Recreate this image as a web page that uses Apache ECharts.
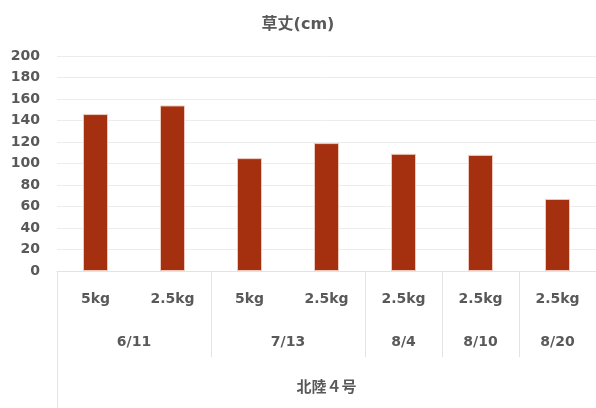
<!DOCTYPE html>
<html>
<head>
<meta charset="utf-8">
<script src="https://cdn.jsdelivr.net/npm/echarts@6/dist/echarts.min.js"></script>
<style>
  html, body { margin: 0; padding: 0; background: #fff; }
  #chart { width: 596px; height: 408px; }
</style>
</head>
<body>
<div id="chart"></div>
<script>
// 草丈 (plant height, cm) by sampling date and fertiliser amount
const weights = ['5kg', '2.5kg', '5kg', '2.5kg', '2.5kg', '2.5kg', '2.5kg'];
const heights = [146, 154, 105, 119, 109, 108, 67];
const dates = ['6/11', '7/13', '8/4', '8/10', '8/20'];
const dateSpans = [2, 2, 1, 1, 1];          // how many bars each date covers
const variety = '北陸４号';
const yTicks = { min: 0, max: 200, interval: 20 };

const FONT = "'DejaVu Sans', 'Noto Sans CJK JP', sans-serif";
const TEXT = '#595959';
const LINE = '#e3e3e3';

// Half-slot positions for the date row: a point axis with 2 points per bar slot
const halfCount = weights.length * 2 + 1;
const halfData = new Array(halfCount).fill('');
const dividerIdx = [];
let pos = 0;
dates.forEach((d, i) => {
  halfData[pos + dateSpans[i]] = d;        // centre of the group
  pos += dateSpans[i] * 2;
  if (pos < halfCount - 1) dividerIdx.push(pos);
});
const labelIdx = halfData.map((v, i) => v ? i : -1).filter(i => i >= 0);

const chart = echarts.init(document.getElementById('chart'));
chart.setOption({
  animation: false,
  title: {
    text: '草丈(cm)',
    left: 'center',
    top: 12,
    textStyle: { fontFamily: FONT, fontSize: 16, fontWeight: 'bold', color: TEXT }
  },
  grid: { left: 57, top: 56, width: 542, height: 215 },
  yAxis: {
    type: 'value',
    min: yTicks.min, max: yTicks.max, interval: yTicks.interval,
    axisLine: { show: false },
    axisTick: { show: false },
    axisLabel: { fontFamily: FONT, fontSize: 14, fontWeight: 'bold', color: TEXT, margin: 17 },
    splitLine: { lineStyle: { color: '#ececec', width: 1 } }
  },
  xAxis: [
    {
      type: 'category',
      data: weights,
      position: 'bottom',
      axisLine: { lineStyle: { color: LINE, width: 1 } },
      axisTick: { show: false },
      axisLabel: { fontFamily: FONT, fontSize: 14, fontWeight: 'bold', color: TEXT, margin: 21, interval: 0 }
    },
    {
      type: 'category',
      data: halfData,
      boundaryGap: false,
      position: 'bottom',
      axisLine: { show: false },
      axisTick: {
        show: true,
        length: 86,
        interval: (idx) => dividerIdx.includes(idx),
        lineStyle: { color: LINE, width: 1 }
      },
      axisLabel: {
        fontFamily: FONT, fontSize: 14, fontWeight: 'bold', color: TEXT, margin: 64,
        interval: (idx) => labelIdx.includes(idx)
      }
    },
    {
      type: 'category',
      data: [variety],
      position: 'bottom',
      axisLine: { show: false },
      axisTick: { show: true, length: 140, lineStyle: { color: LINE, width: 1 } },
      axisLabel: { fontFamily: FONT, fontSize: 15, fontWeight: 'bold', color: TEXT, margin: 110 }
    }
  ],
  series: [{
    type: 'bar',
    xAxisIndex: 0,
    data: heights,
    barWidth: 25,
    itemStyle: { color: '#A53010', borderColor: '#edc9bd', borderWidth: 1 }
  }]
});
</script>
</body>
</html>
